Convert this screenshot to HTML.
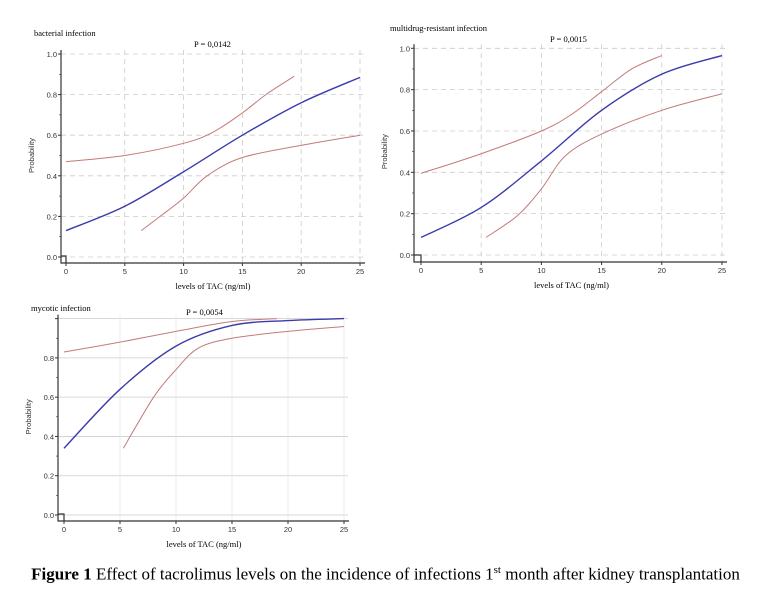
<!DOCTYPE html>
<html><head><meta charset="utf-8"><style>
body{margin:0;background:#fff;width:771px;height:602px;overflow:hidden;}
svg{position:absolute;left:0;top:0;}
.t{font-family:"Liberation Serif",serif;font-size:9px;fill:#000;}
.n{font-family:"Liberation Sans",sans-serif;font-size:7.5px;fill:#333;}
.cap{position:absolute;left:0;width:771px;top:564px;text-align:center;font-family:"Liberation Serif",serif;font-size:17px;color:#000;white-space:nowrap;}
</style></head><body>
<svg id="s" width="771" height="602" xmlns="http://www.w3.org/2000/svg"></svg>
<div class="cap"><b>Figure 1</b> Effect of tacrolimus levels on the incidence of infections 1<sup style="font-size:11px">st</sup> month after kidney transplantation</div>
<script>
const s=document.getElementById('s');let h='';
function chart(c){
 const X=v=>c.x0+(c.x1-c.x0)*v/25, Y=v=>c.y0+(c.y1-c.y0)*v;
 for(let i=0;i<=5;i++){const y=Y(i*0.2);h+=`<line x1="${c.ax}" x2="${c.x1+4}" y1="${y}" y2="${y}" stroke="#ccc" stroke-width="0.8" stroke-dasharray="${c.dash}"/>`;
  if(!(c.hideTop&&i==5))h+=`<text class="n" x="${c.ax-4}" y="${y+3}" text-anchor="end">${(i*0.2).toFixed(1)}</text>`;
  h+=`<line x1="${c.ax-3}" x2="${c.ax}" y1="${y}" y2="${y}" stroke="#333"/>`;
  if(i<5){const ym=Y(i*0.2+0.1);h+=`<line x1="${c.ax-2}" x2="${c.ax}" y1="${ym}" y2="${ym}" stroke="#333" stroke-width="0.6"/>`;}}
 for(let i=0;i<=5;i++){const x=X(i*5);if(i>0)h+=`<line x1="${x}" x2="${x}" y1="${c.y1-4}" y2="${c.ab}" stroke="${c.vcol}" stroke-width="0.8" stroke-dasharray="${c.dash}"/>`;
  h+=`<line x1="${x}" x2="${x}" y1="${c.ab}" y2="${c.ab+3}" stroke="#333"/>`;
  h+=`<text class="n" x="${x}" y="${c.ab+11}" text-anchor="middle">${i*5}</text>`;}
 h+=`<path d="M${c.ax} ${c.y1-4}V${c.ab}H${c.x1+5}" fill="none" stroke="#333" stroke-width="1.2"/>`;
 h+=`<path d="M${c.ax} ${c.ab-7}H${X(0)}V${c.ab}" fill="none" stroke="#333" stroke-width="1.2"/>`;
 h+=`<text class="n" transform="translate(${c.ax-27},${(c.y0+c.y1)/2}) rotate(-90)" text-anchor="middle">Probability</text>`;
 h+=`<text class="t" x="${(c.x0+c.x1)/2}" y="${c.ab+26}" text-anchor="middle" style="font-size:8.5px">levels of TAC (ng/ml)</text>`;
 h+=`<text class="t" x="${c.tx}" y="${c.ty}" style="font-size:8.5px">${c.title}</text>`;
 h+=`<text class="t" x="${c.px}" y="${c.py}" style="font-size:8.5px">${c.p}</text>`;
 const curve=(pts,col,w)=>{const P=pts.map(p=>[X(p[0]),Y(p[1])]);let d=`M${P[0][0]} ${P[0][1]}`;
  for(let i=0;i<P.length-1;i++){const p0=P[i-1]||P[i],p1=P[i],p2=P[i+1],p3=P[i+2]||p2;
   d+=`C${p1[0]+(p2[0]-p0[0])/6} ${p1[1]+(p2[1]-p0[1])/6} ${p2[0]-(p3[0]-p1[0])/6} ${p2[1]-(p3[1]-p1[1])/6} ${p2[0]} ${p2[1]}`;}
  h+=`<path d="${d}" fill="none" stroke="${col}" stroke-width="${w}"/>`;};
 curve(c.up,'#c47a7a',1);curve(c.lo,'#c47a7a',1);curve(c.b,'#3b3bab',1.4);
}
chart({x0:66,x1:360,y0:257,y1:54,ax:61,ab:263,dash:'5,4',vcol:'#ccc',title:'bacterial infection',tx:34,ty:36,p:'P = 0,0142',px:194,py:47,
 b:[[0,.13],[5,.25],[10,.42],[15,.6],[20,.76],[25,.885]],
 up:[[0,.47],[5,.5],[10,.56],[12.5,.615],[15,.71],[17,.8],[19.4,.89]],
 lo:[[6.4,.13],[8,.2],[10,.29],[12,.4],[15,.49],[20,.55],[25,.6]]});
chart({x0:421,x1:722,y0:255,y1:48.3,ax:414,ab:262,dash:'5,4',vcol:'#ccc',title:'multidrug-resistant infection',tx:390,ty:31,p:'P = 0,0015',px:550,py:42,
 b:[[0,.085],[5,.23],[10,.455],[15,.7],[20,.875],[25,.965]],
 up:[[0,.395],[5,.49],[10,.6],[12.5,.68],[15,.79],[17.5,.9],[20,.965]],
 lo:[[5.4,.085],[8,.19],[10,.32],[12,.48],[15,.585],[20,.7],[25,.78]]});
chart({x0:64,x1:344,y0:515,y1:318.6,ax:58,ab:521,dash:'none',vcol:'#e6e6e6',hideTop:true,title:'mycotic infection',tx:31,ty:311,p:'P = 0,0054',px:186,py:315,
 b:[[0,.34],[5,.64],[10,.86],[15,.965],[20,.99],[25,1]],
 up:[[0,.83],[5,.88],[10,.935],[15,.985],[19,1]],
 lo:[[5.3,.34],[8,.6],[10,.74],[12,.85],[15,.9],[20,.935],[25,.96]]});
s.innerHTML=h;
</script>
</body></html>
